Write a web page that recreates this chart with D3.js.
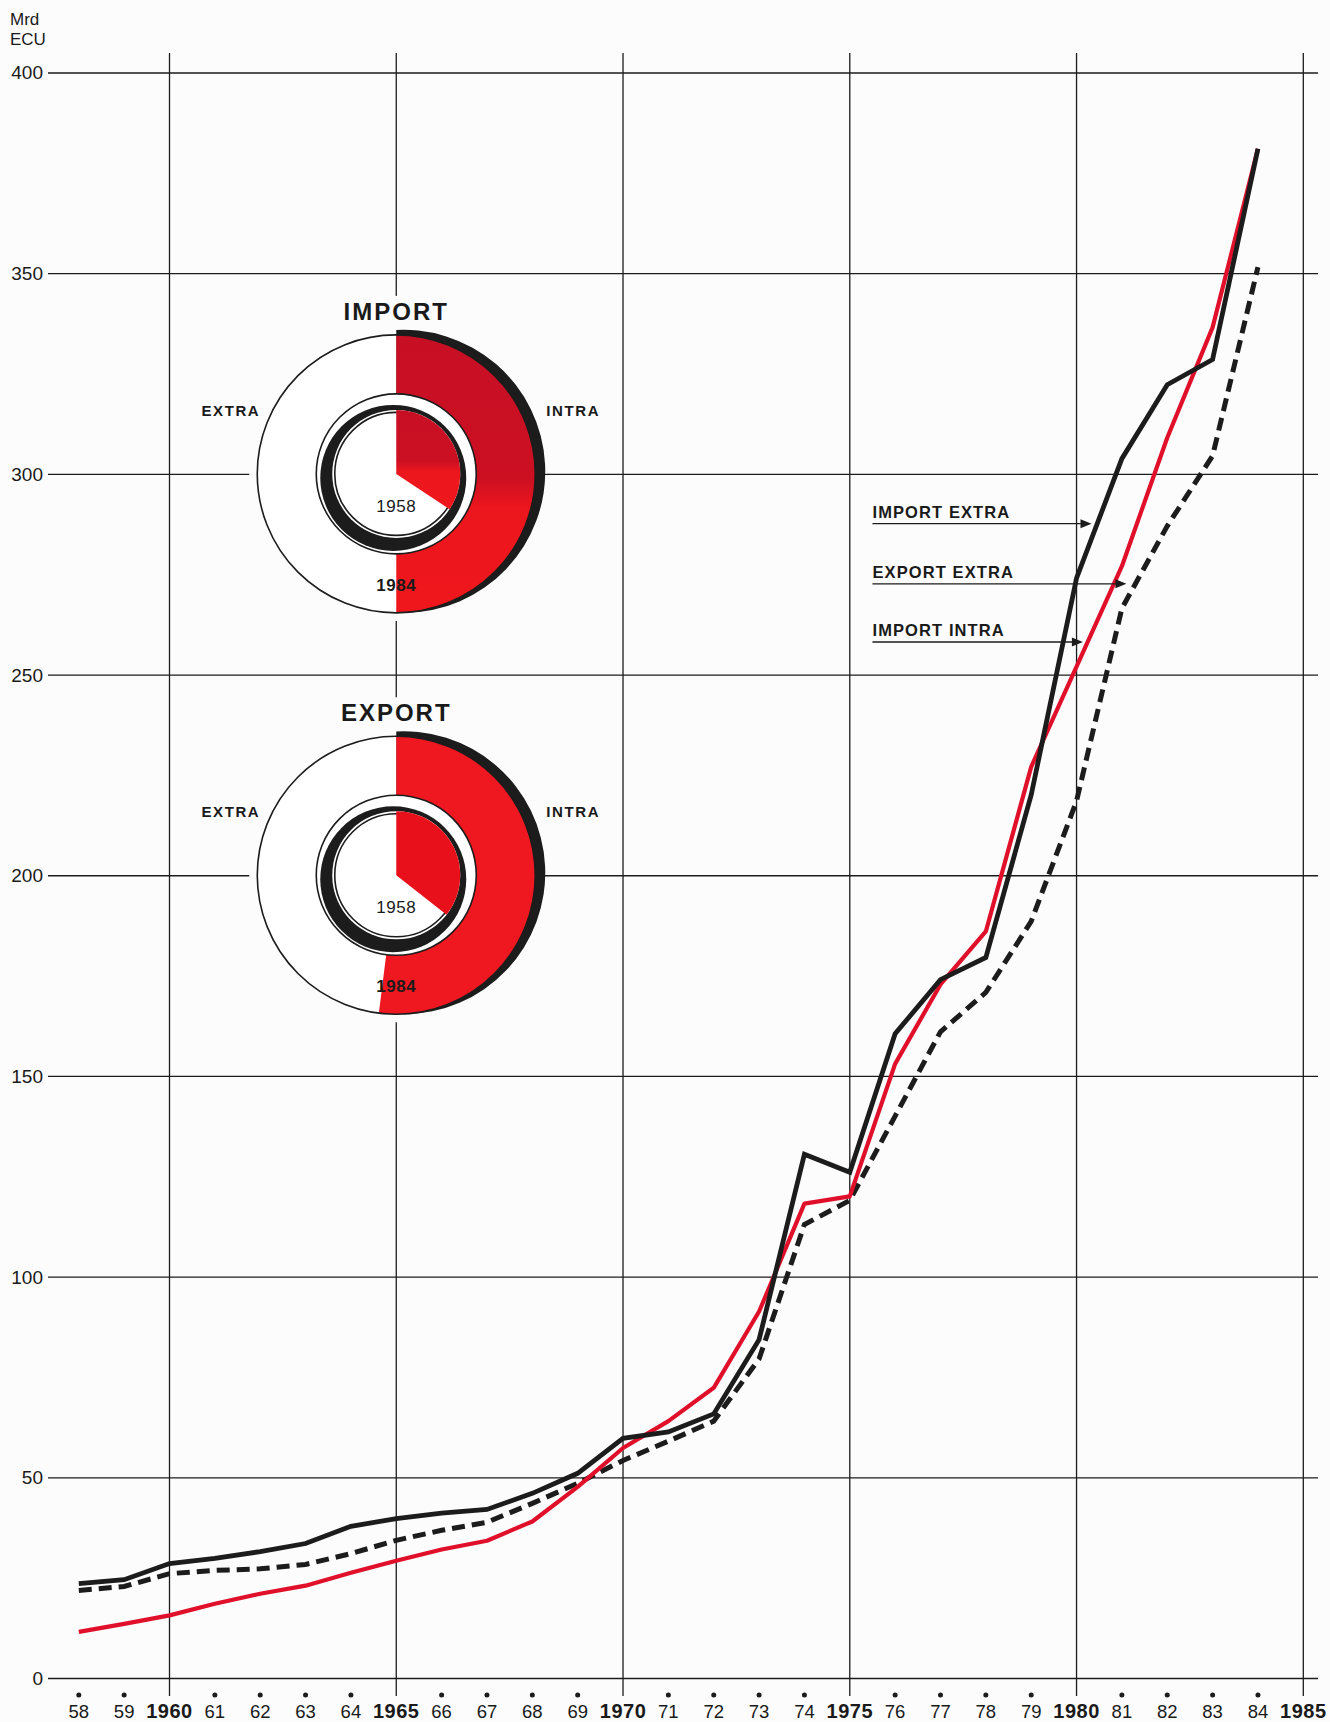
<!DOCTYPE html>
<html><head><meta charset="utf-8">
<script src="https://cdn.jsdelivr.net/npm/d3@7"></script>
<style>
body{margin:0;background:#fcfcfc}
svg text{font-family:"Liberation Sans",Arial,Helvetica,sans-serif;fill:#1a1a1a}
</style>
</head><body>
<svg id="chart" width="1330" height="1722"></svg>
<script>
// ---------- data ----------
const years = [1958,1959,1960,1961,1962,1963,1964,1965,1966,1967,1968,1969,1970,1971,1972,1973,1974,1975,1976,1977,1978,1979,1980,1981,1982,1983,1984];
const importExtra = [23.5,24.5,28.5,29.8,31.5,33.5,37.8,39.7,41.1,42.0,46.0,51.0,59.7,61.3,65.8,84.3,130.5,126.0,160.5,174.0,179.5,220.0,274.0,303.8,322.2,328.5,381.0];
const exportExtra = [11.5,13.5,15.6,18.5,21.0,23.0,26.2,29.2,32.0,34.2,39.0,47.6,57.3,64.0,72.3,91.3,118.2,120.0,153.0,172.8,186.0,227.0,252.0,277.0,309.0,336.5,381.0];
const importIntra = [21.8,22.8,26.0,26.8,27.2,28.3,31.0,34.3,36.8,38.8,43.5,48.5,54.2,59.0,64.0,79.5,113.0,119.0,140.0,161.0,170.8,188.5,218.5,266.5,287.0,304.5,351.5];

const yTicks = [0,50,100,150,200,250,300,350,400];
const xMajor = [1960,1965,1970,1975,1980,1985];
const xLabelYears = [1958,1959,1960,1961,1962,1963,1964,1965,1966,1967,1968,1969,1970,1971,1972,1973,1974,1975,1976,1977,1978,1979,1980,1981,1982,1983,1984,1985];
const xLabels = ["58","59","1960","61","62","63","64","1965","66","67","68","69","1970","71","72","73","74","1975","76","77","78","79","1980","81","82","83","84","1985"];

const donutYears = ["1958","1984"];
const importIntraShare = [0.343, 0.50];
const exportIntraShare = [0.356, 0.52];

const legendLabels = ["IMPORT EXTRA","EXPORT EXTRA","IMPORT INTRA"];
const legendTipYear = [1980.33, 1981.1, 1980.14];
const legendTipValue = [287.6, 272.6, 258.1];

// ---------- setup ----------
const svg = d3.select("#chart");
const BG = "#fcfcfc";
const RED = "#e0102a";
const INK = "#1c1c1c";

const x = d3.scaleLinear().domain([1960,1985]).range([169.5,1303.3]);
const y = d3.scaleLinear().domain([0,400]).range([1678,72.5]);

const gridLeft = 48, gridRight = 1318;

// horizontal grid + y labels
const yAxis = d3.axisLeft(y).tickValues(yTicks).tickSize(-(gridRight-gridLeft)).tickPadding(5).tickFormat(d3.format("d"));
const gy = svg.append("g").attr("transform",`translate(${gridLeft},0)`).call(yAxis);
gy.select(".domain").remove();
gy.selectAll(".tick line").attr("stroke",INK).attr("stroke-width",1.3);
gy.selectAll(".tick text").attr("font-size",19).attr("fill",INK).attr("font-family","Liberation Sans, Arial, sans-serif").attr("dy","0.34em");

// unit
svg.append("text").attr("x",10).attr("y",25).attr("font-size",17).text("Mrd");
svg.append("text").attr("x",10).attr("y",45).attr("font-size",17).text("ECU");

// vertical grid
svg.append("g").selectAll("line").data(xMajor).join("line")
  .attr("x1",d=>x(d)).attr("x2",d=>x(d)).attr("y1",53).attr("y2",1696)
  .attr("stroke",INK).attr("stroke-width",1.3);

// x labels and dots
const xl = svg.append("g");
xLabelYears.forEach((yr,i)=>{
  const major = xMajor.includes(yr);
  if(!major){
    xl.append("circle").attr("cx",x(yr)).attr("cy",1695).attr("r",2.5).attr("fill",INK);
  }
  xl.append("text").attr("x",x(yr)).attr("y",1718).attr("text-anchor","middle")
    .attr("font-size",major?20:18.5).attr("font-weight",major?"bold":"normal")
    .attr("letter-spacing",major?0.5:0)
    .text(xLabels[i]);
});

// ---------- donuts ----------
const defs = svg.append("defs");
const gImp = defs.append("linearGradient").attr("id","impGrad").attr("x1",0).attr("y1",0).attr("x2",0).attr("y2",1);
gImp.append("stop").attr("offset","0%").attr("stop-color","#c70f24");
gImp.append("stop").attr("offset","52%").attr("stop-color","#cc1022");
gImp.append("stop").attr("offset","62%").attr("stop-color","#ec161d");
gImp.append("stop").attr("offset","100%").attr("stop-color","#ef171c");

function donut(cx, cy, title, shares, outerFill, innerFill, idx){
  const g = svg.append("g").attr("transform",`translate(${cx},${cy})`);
  // cover grid
  g.append("circle").attr("r",147).attr("fill",BG);
  g.append("rect").attr("x",-75).attr("y",-178).attr("width",150).attr("height",45).attr("fill",BG);
  // title
  g.append("text").attr("x",0).attr("y",-154).attr("text-anchor","middle").attr("font-size",24)
    .attr("font-weight","bold").attr("letter-spacing",2).text(title);
  // side labels
  g.append("text").attr("x",-136).attr("y",-58).attr("text-anchor","end").attr("font-size",15)
    .attr("font-weight","bold").attr("letter-spacing",1.6).text("EXTRA");
  g.append("text").attr("x",150).attr("y",-58).attr("font-size",15)
    .attr("font-weight","bold").attr("letter-spacing",1.6).text("INTRA");

  const R = 139, r = 80;
  const clipId = "clip"+idx;
  defs.append("clipPath").attr("id",clipId).append("rect").attr("x",0).attr("y",-200).attr("width",200).attr("height",400);
  const a1984 = shares[1]*2*Math.PI;
  // shadow crescent (clipped to the right half)
  g.append("g").attr("clip-path",`url(#${clipId})`)
    .append("path")
    .attr("transform","translate(7.5,-2.5)")
    .attr("d", d3.arc()({innerRadius:0, outerRadius:R+2.5, startAngle:-0.1, endAngle:Math.min(a1984,Math.PI)}))
    .attr("fill",INK);
  // outer ring: white extra, red intra
  g.append("path").attr("d", d3.arc()({innerRadius:r, outerRadius:R, startAngle:a1984, endAngle:2*Math.PI})).attr("fill","#ffffff");
  g.append("path").attr("d", d3.arc()({innerRadius:r, outerRadius:R, startAngle:0, endAngle:a1984})).attr("fill",outerFill);
  g.append("circle").attr("r",R).attr("fill","none").attr("stroke",INK).attr("stroke-width",1.6);
  g.append("circle").attr("r",r).attr("fill","#ffffff").attr("stroke",INK).attr("stroke-width",1.6);
  // inner pie with shadow ring
  g.append("circle").attr("cx",-3).attr("cy",4).attr("r",73).attr("fill",INK);
  g.append("circle").attr("r",64).attr("fill","#ffffff");
  g.append("circle").attr("r",61.5).attr("fill","none").attr("stroke",INK).attr("stroke-width",1.6);
  const a1958 = shares[0]*2*Math.PI;
  g.append("path").attr("d", d3.arc()({innerRadius:0, outerRadius:64, startAngle:0, endAngle:a1958})).attr("fill",innerFill);
  // year labels
  g.append("text").attr("x",0).attr("y",38).attr("text-anchor","middle").attr("font-size",17).attr("letter-spacing",0.5).text(donutYears[0]);
  g.append("text").attr("x",0).attr("y",117).attr("text-anchor","middle").attr("font-size",17).attr("font-weight","bold").attr("letter-spacing",0.5).text(donutYears[1]);
}
donut(x(1965), y(300), "IMPORT", importIntraShare, "url(#impGrad)", "url(#impGrad)", 0);
donut(x(1965), y(200), "EXPORT", exportIntraShare, "#ef1720", "#e8111b", 1);

// ---------- lines ----------
const line = d3.line().x((d,i)=>x(years[i])).y(d=>y(d)).curve(d3.curveLinear);
svg.append("path").datum(importIntra).attr("d",line).attr("fill","none").attr("stroke",INK)
  .attr("stroke-width",5).attr("stroke-dasharray","13,7").attr("stroke-linejoin","miter");
svg.append("path").datum(exportExtra).attr("d",line).attr("fill","none").attr("stroke",RED)
  .attr("stroke-width",4.2).attr("stroke-linejoin","round");
svg.append("path").datum(importExtra).attr("d",line).attr("fill","none").attr("stroke",INK)
  .attr("stroke-width",4.8).attr("stroke-linejoin","miter");

// ---------- legend annotations ----------
const lx = x(1975.5);
legendLabels.forEach((lab,i)=>{
  const tx = x(legendTipYear[i]), ty = y(legendTipValue[i]);
  svg.append("text").attr("x",lx).attr("y",ty-6).attr("font-size",16.5).attr("font-weight","bold")
    .attr("letter-spacing",1.1).text(lab);
  svg.append("line").attr("x1",lx).attr("x2",tx-8).attr("y1",ty).attr("y2",ty).attr("stroke",INK).attr("stroke-width",1.4);
  svg.append("path").attr("d",`M${tx},${ty} L${tx-11},${ty-4.5} L${tx-11},${ty+4.5} Z`).attr("fill",INK);
});
</script>
</body></html>
